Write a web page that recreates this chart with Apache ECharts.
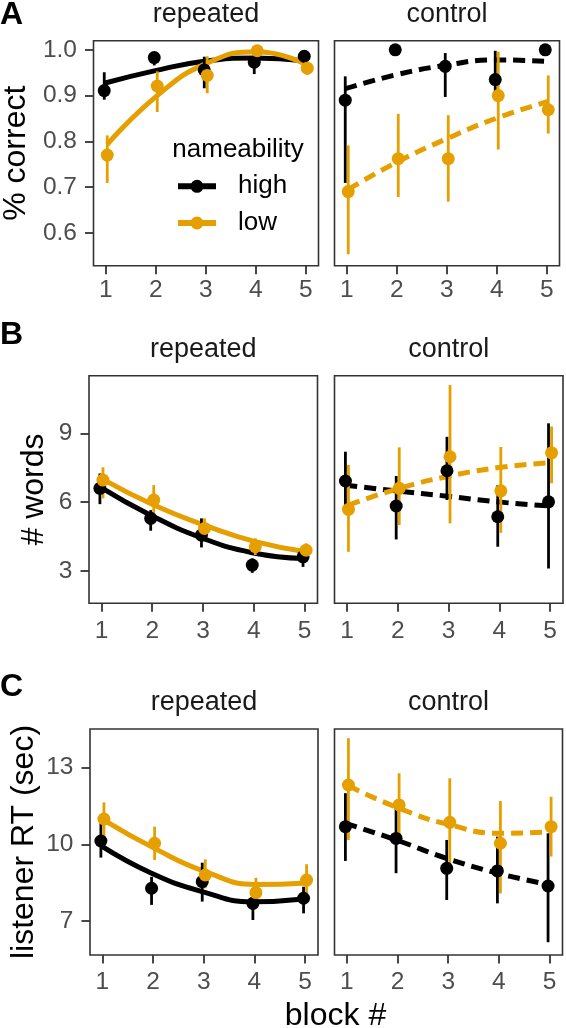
<!DOCTYPE html>
<html lang="en">
<head>
<meta charset="UTF-8">
<title>nameability by block</title>
<style>
  body { margin: 0; background: #ffffff; }
  #chart { width: 566px; height: 1028px; }
</style>
</head>
<body>
<div id="chart"></div>
<script src="https://cdn.jsdelivr.net/npm/echarts@6.0.0/dist/echarts.min.js"></script>
<script>
// blocks and tick labels
const blocks = [1, 2, 3, 4, 5];
const accTicks = [0.6, 0.7, 0.8, 0.9, 1.0];
const wordsTicks = [3, 6, 9];
const rtTicks = [7, 10, 13];

// A: % correct
const accRepHigh      = [0.911, 0.983, 0.956, 0.973, 0.986];
const accRepHighLo    = [0.891, 0.966, 0.916, 0.947, 0.972];
const accRepHighHi    = [0.951, 0.994, 0.985, 0.993, 0.996];
const accRepHighFit   = [0.927, 0.954, 0.975, 0.982, 0.976];
const accRepLow       = [0.770, 0.921, 0.944, 0.998, 0.960];
const accRepLowLo     = [0.709, 0.864, 0.905, 0.985, 0.945];
const accRepLowHi     = [0.813, 0.953, 0.986, 1.000, 0.975];
const accRepLowFit    = [0.793, 0.900, 0.971, 0.996, 0.967];
const accConHigh      = [0.890, 1.000, 0.964, 0.935, 1.000];
const accConHighLo    = [0.709, 1.000, 0.897, 0.898, 1.000];
const accConHighHi    = [0.942, 1.000, 0.993, 0.998, 1.000];
const accConHighFit   = [0.915, 0.945, 0.966, 0.978, 0.975];
const accConLow       = [0.690, 0.762, 0.762, 0.900, 0.869];
const accConLowLo     = [0.553, 0.678, 0.668, 0.782, 0.817];
const accConLowHi     = [0.791, 0.860, 0.857, 0.996, 0.944];
const accConLowFit    = [0.695, 0.756, 0.807, 0.852, 0.887];

// B: # words
const wordsRepHigh    = [6.60, 5.29, 4.56, 3.25, 3.61];
const wordsRepHighLo  = [5.91, 4.75, 4.02, 2.91, 3.17];
const wordsRepHighHi  = [7.25, 5.65, 5.29, 3.54, 3.98];
const wordsRepHighFit = [6.67, 5.43, 4.44, 3.79, 3.54];
const wordsRepLow     = [6.96, 6.09, 4.85, 4.05, 3.90];
const wordsRepLowLo   = [6.16, 5.51, 4.34, 3.69, 3.54];
const wordsRepLowHi   = [7.52, 6.74, 5.29, 4.42, 4.20];
const wordsRepLowFit  = [6.99, 5.87, 4.99, 4.27, 3.83];
const wordsConHigh    = [6.92, 5.83, 7.37, 5.36, 6.01];
const wordsConHighLo  = [5.72, 4.37, 6.09, 4.05, 3.10];
const wordsConHighHi  = [8.20, 7.14, 8.85, 6.74, 9.44];
const wordsConHighFit = [6.74, 6.49, 6.26, 6.01, 5.83];
const wordsConLow     = [5.68, 6.60, 7.98, 6.49, 8.15];
const wordsConLowLo   = [3.83, 5.00, 5.07, 4.66, 6.82];
const wordsConLowHi   = [7.62, 8.39, 11.11, 8.41, 9.30];
const wordsConLowFit  = [5.87, 6.60, 7.14, 7.52, 7.72];

// C: listener RT (sec)
const rtRepHigh       = [10.13, 8.28, 8.54, 7.69, 7.89];
const rtRepHighLo     = [9.48, 7.63, 7.76, 7.04, 7.30];
const rtRepHighHi     = [10.82, 8.73, 9.28, 8.28, 8.34];
const rtRepHighFit    = [9.95, 8.87, 8.15, 7.75, 7.86];
const rtRepLow        = [10.99, 10.04, 8.80, 8.11, 8.60];
const rtRepLowLo      = [10.23, 9.39, 8.28, 7.50, 7.95];
const rtRepLowHi      = [11.64, 10.69, 9.41, 8.69, 9.22];
const rtRepLowFit     = [10.95, 9.84, 8.93, 8.43, 8.49];
const rtConHigh       = [10.69, 10.23, 9.06, 8.96, 8.37];
const rtConHighLo     = [9.35, 8.87, 7.82, 7.69, 6.17];
const rtConHighHi     = [12.00, 11.67, 10.17, 10.30, 10.43];
const rtConHighFit    = [10.82, 10.17, 9.45, 8.87, 8.43];
const rtConLow        = [12.32, 11.54, 10.86, 10.04, 10.69];
const rtConLowLo      = [10.17, 10.23, 8.93, 8.08, 9.52];
const rtConLowHi      = [14.15, 12.78, 12.58, 11.69, 11.86];
const rtConLowFit     = [12.29, 11.41, 10.76, 10.43, 10.49];

const HIGH = '#000000';
const LOW = '#E69F00';
const FONT = '"Liberation Sans", Arial, Helvetica, sans-serif';
const DODGE = 0.03;

// layout of the three rows (pixels)
const rows = [
  { letter: 'A', title: '% correct', titleX: 16, top: 40.7, height: 225, left: 93.5, left2: 334.5, width: 225,
    yMin: 0.528, yMax: 1.02, ticks: accTicks, fmt: v => v.toFixed(1), xMargin: 12.5, letterY: 15.5 },
  { letter: 'B', title: '# words', titleX: 34, top: 375.7, height: 227.6, left: 89, left2: 334.5, width: 228.5,
    yMin: 1.58, yMax: 11.52, ticks: wordsTicks, fmt: v => String(v), xMargin: 15, letterY: 335.5 },
  { letter: 'C', title: 'listener RT (sec)', titleX: 24.5, top: 729, height: 226, left: 90, left2: 334.5, width: 228,
    yMin: 5.67, yMax: 14.51, ticks: rtTicks, fmt: v => String(v), xMargin: 14.5, letterY: 687 }
];

const panels = [
  { high: [accRepHigh, accRepHighLo, accRepHighHi, accRepHighFit], low: [accRepLow, accRepLowLo, accRepLowHi, accRepLowFit], dashed: false },
  { high: [accConHigh, accConHighLo, accConHighHi, accConHighFit], low: [accConLow, accConLowLo, accConLowHi, accConLowFit], dashed: true },
  { high: [wordsRepHigh, wordsRepHighLo, wordsRepHighHi, wordsRepHighFit], low: [wordsRepLow, wordsRepLowLo, wordsRepLowHi, wordsRepLowFit], dashed: false },
  { high: [wordsConHigh, wordsConHighLo, wordsConHighHi, wordsConHighFit], low: [wordsConLow, wordsConLowLo, wordsConLowHi, wordsConLowFit], dashed: true },
  { high: [rtRepHigh, rtRepHighLo, rtRepHighHi, rtRepHighFit], low: [rtRepLow, rtRepLowLo, rtRepLowHi, rtRepLowFit], dashed: false },
  { high: [rtConHigh, rtConHighLo, rtConHighHi, rtConHighFit], low: [rtConLow, rtConLowLo, rtConLowHi, rtConLowFit], dashed: true }
];

const grids = [], xAxes = [], yAxes = [], series = [], texts = [];

rows.forEach((r, ri) => {
  [r.left, r.left2].forEach((left, ci) => {
    grids.push({
      left: left, top: r.top, width: r.width, height: r.height,
      show: true, borderColor: '#333333', borderWidth: 1.6, backgroundColor: '#ffffff',
      outerBoundsMode: 'none', containLabel: false
    });
    const gi = ri * 2 + ci;
    xAxes.push({
      type: 'value', gridIndex: gi, min: 0.755, max: 5.255,
      axisLine: { show: false }, splitLine: { show: false },
      axisTick: { show: true, customValues: blocks, length: 8.5, lineStyle: { color: '#333333', width: 1.8 } },
      axisLabel: { customValues: blocks, margin: r.xMargin, color: '#4D4D4D', fontSize: 24.5, fontFamily: FONT }
    });
    yAxes.push({
      type: 'value', gridIndex: gi, min: r.yMin, max: r.yMax,
      axisLine: { show: false }, splitLine: { show: false },
      axisTick: { show: ci === 0, customValues: r.ticks, length: 8.5, lineStyle: { color: '#333333', width: 1.8 } },
      axisLabel: { show: ci === 0, customValues: r.ticks, formatter: r.fmt, margin: 16.5, color: '#4D4D4D', fontSize: 24.5, fontFamily: FONT }
    });
    // strip titles
    texts.push({
      type: 'text', x: left + r.width / 2, y: r.top - 26.5, silent: true,
      style: { text: ci === 0 ? 'repeated' : 'control', fill: '#1A1A1A', font: '27px ' + FONT, align: 'center', verticalAlign: 'middle' }
    });
  });
  // y-axis title
  texts.push({
    type: 'text', x: r.titleX, y: r.top + r.height / 2, rotation: Math.PI / 2, silent: true,
    style: { text: r.title, fill: '#000000', font: '32px ' + FONT, align: 'center', verticalAlign: 'middle' }
  });
  // panel letter
  texts.push({
    type: 'text', x: 0, y: r.letterY, silent: true,
    style: { text: r.letter, fill: '#000000', font: 'bold 32px ' + FONT, align: 'left', verticalAlign: 'middle' }
  });
});

texts.push({
  type: 'text', x: 335.5, y: 1016.5, silent: true,
  style: { text: 'block #', fill: '#000000', font: '32px ' + FONT, align: 'center', verticalAlign: 'middle' }
});
texts.push({
  type: 'text', x: 172.3, y: 150, silent: true,
  style: { text: 'nameability', fill: '#000000', font: '26px ' + FONT, align: 'left', verticalAlign: 'middle' }
});

function renderBar(params, api) {
  const top = api.coord([api.value(0), api.value(2)]);
  const bottom = api.coord([api.value(0), api.value(1)]);
  return {
    type: 'line',
    shape: { x1: top[0], y1: top[1], x2: bottom[0], y2: bottom[1] },
    style: { stroke: api.visual('color'), lineWidth: 2.8 }
  };
}

function fitSeries(gi, name, color, dodge, g, dashed) {
  return {
    type: 'line', name: name + ' fit', xAxisIndex: gi, yAxisIndex: gi, silent: true,
    data: blocks.map((b, i) => [b + dodge, g[3][i]]),
    smooth: 0.5, symbol: 'none', showSymbol: false, z: 2,
    itemStyle: { color: color },
    lineStyle: { color: color, width: 5, type: dashed ? [12, 7] : 'solid', cap: 'butt' }
  };
}

function rangeSeries(gi, name, color, dodge, g) {
  return [
    {
      type: 'custom', name: name + ' range', xAxisIndex: gi, yAxisIndex: gi, silent: true, z: 3,
      itemStyle: { color: color },
      encode: { x: 0, y: [1, 2] },
      data: blocks.map((b, i) => [b + dodge, g[1][i], g[2][i]]),
      renderItem: renderBar
    },
    {
      type: 'scatter', name: name, xAxisIndex: gi, yAxisIndex: gi, silent: true, z: 3,
      symbol: 'circle', symbolSize: 13,
      itemStyle: { color: color, opacity: 1 },
      data: blocks.map((b, i) => [b + dodge, g[0][i]])
    }
  ];
}

panels.forEach((p, gi) => {
  series.push(fitSeries(gi, 'high', HIGH, -DODGE, p.high, p.dashed));
  series.push(fitSeries(gi, 'low', LOW, DODGE, p.low, p.dashed));
  series.push(...rangeSeries(gi, 'high', HIGH, -DODGE, p.high));
  series.push(...rangeSeries(gi, 'low', LOW, DODGE, p.low));
});

const keyIcon = 'path://M0,3H38V9H0Z M25.5,6A6.5,6.5,0,1,1,12.5,6A6.5,6.5,0,1,1,25.5,6Z';

const chart = echarts.init(document.getElementById('chart'), null, { renderer: 'canvas' });
chart.setOption({
  backgroundColor: '#ffffff',
  animation: false,
  grid: grids,
  xAxis: xAxes,
  yAxis: yAxes,
  legend: {
    left: 178, top: 173.3, orient: 'vertical', padding: 0,
    itemWidth: 38, itemHeight: 13, itemGap: 10.7,
    selectedMode: false,
    textStyle: { fontSize: 26, fontFamily: FONT, color: '#000000', padding: [0, 0, 0, 17] },
    data: [{ name: 'high', icon: keyIcon }, { name: 'low', icon: keyIcon }]
  },
  graphic: texts,
  series: series
});
</script>
</body>
</html>
